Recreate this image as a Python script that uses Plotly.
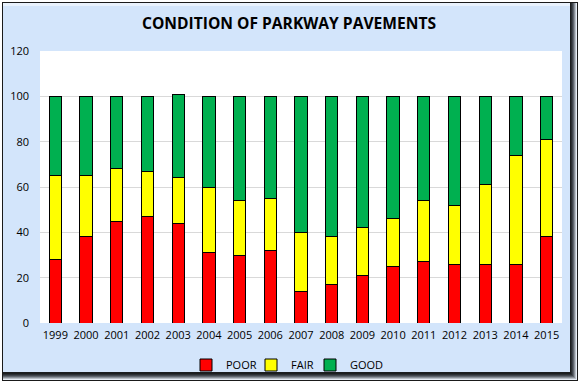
import plotly.graph_objects as go

years = [str(y) for y in range(1999, 2016)]
poor = [28, 38, 45, 47, 44, 31, 30, 32, 14, 17, 21, 25, 27, 26, 26, 26, 38]
fair = [37, 27, 23, 20, 20, 29, 24, 23, 26, 21, 21, 21, 27, 26, 35, 48, 43]
good = [35, 35, 32, 33, 37, 40, 46, 45, 60, 62, 58, 54, 46, 48, 39, 26, 19]
series = [("POOR", poor, "#ff0000"), ("FAIR", fair, "#ffff00"), ("GOOD", good, "#00b050")]

W, H = 580, 388
L, R, T, B = 40, 18, 51, 65
pw, ph = W - L - R, H - T - B

def px(x):
    return (x - L) / pw

def py(y):
    return (H - B - y) / ph

legend_ids = ["legend", "legend2", "legend3"]
legend_x = [186, 251, 310]

fig = go.Figure()
for (name, vals, col), lid in zip(series, legend_ids):
    fig.add_trace(go.Bar(x=years, y=vals, name=name, legend=lid, showlegend=True,
                         marker=dict(color=col, line=dict(color="black", width=1))))

shapes = []
def rect(x0, y0, x1, y1, fill, line=None, lw=0):
    shapes.append(dict(type="rect", xref="paper", yref="paper", layer="below",
                       x0=px(x0), x1=px(x1), y0=py(y0), y1=py(y1),
                       fillcolor=fill, line=dict(color=line or fill, width=lw)))

# outer frame with bevel
rect(2, 2, 578, 381, "#1a1a1a")
grays_r = ["#e8eef6", "#b8bec6", "#8a9098", "#60666e", "#41464d", "#2b2f33", "#1c1e20"]
for i, g in enumerate(grays_r):
    rect(3, 3, 577 - i, 380 - i, g)
rect(3, 3, 570, 372, "#d3e5fb")
rect(3, 3, 570, 6, "#e9f2fd")
rect(L, T, W - R, H - B, "white")

legends = {}
for lid, lx in zip(legend_ids, legend_x):
    legends[lid] = dict(orientation="h", x=lx / W, xref="container", xanchor="left",
                        y=1 - 365 / H, yref="container", yanchor="middle",
                        bgcolor="rgba(0,0,0,0)", itemwidth=30,
                        font=dict(family="Open Sans", size=11))

fig.update_layout(
    width=W, height=H,
    margin=dict(l=L, r=R, t=T, b=B, autoexpand=False),
    paper_bgcolor="white",
    plot_bgcolor="rgba(0,0,0,0)",
    barmode="stack",
    bargap=0.6,
    showlegend=True,
    shapes=shapes,
    font=dict(family="Open Sans", size=11, color="black"),
    title=dict(text="<b>CONDITION OF PARKWAY PAVEMENTS</b>",
               x=px(289), xref="paper", xanchor="center",
               y=1 - 24 / H, yanchor="middle",
               font=dict(family="Open Sans", size=15.6, color="black")),
    xaxis=dict(showgrid=False, showline=False, ticks="", tickfont=dict(size=11),
               automargin=False, ticklabelstandoff=4),
    yaxis=dict(range=[0, 120], dtick=20, showgrid=True, gridcolor="#d9d9d9", gridwidth=1,
               zeroline=False, showline=False, tickfont=dict(size=11), ticklabelstandoff=10,
               automargin=False),
    **legends,
)

fig.write_html("out.html", config={"displayModeBar": False},
               post_script="document.body.style.margin='0px';")
